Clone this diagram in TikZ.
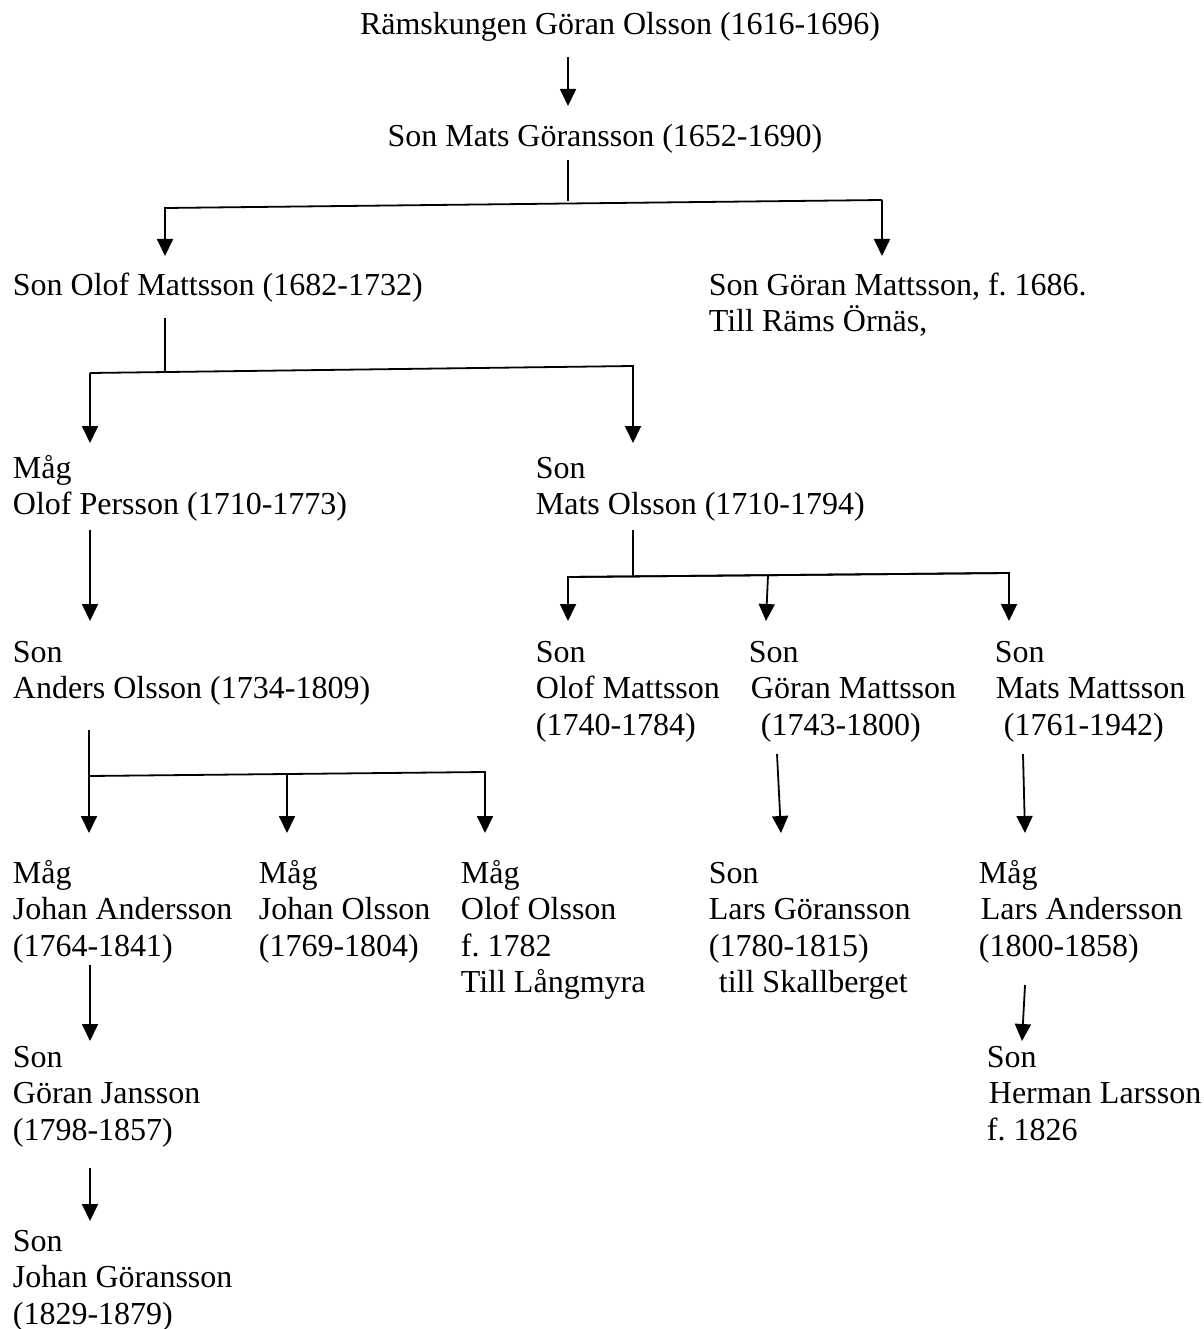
\documentclass[tikz,border=0pt]{standalone}
\usepackage{fontspec}
\setmainfont{Liberation Serif}
\usetikzlibrary{arrows.meta}

\begin{document}
\begin{tikzpicture}[x=1pt,y=-1pt,line width=1.8pt,>={Triangle[length=17pt,width=16pt]},
	every node/.style={inner sep=0pt,align=left,anchor=base west,font=\fontsize{32}{36.6}\selectfont\frenchspacing}]
	\useasboundingbox (0,0) rectangle (1203,1329);
	% personer (base = sista radens baslinje)
	\node[anchor=base] (root) at (620,35) {Rämskungen Göran Olsson (1616-1696)};
	\node[anchor=base] (mats) at (605,147) {Son Mats Göransson (1652-1690)};
	\node (olof) at (12,295) {Son Olof Mattsson (1682-1732)};
	\node (goran) at (708,331.6) {Son Göran Mattsson, f. 1686.\\Till Räms Örnäs,};
	\node (olofp) at (12,514.6) {Måg\\Olof Persson (1710-1773)};
	\node (matso) at (535,514.6) {Son\\Mats Olsson (1710-1794)};
	\node (anders) at (12,698.6) {Son\\Anders Olsson (1734-1809)};
	\node (olofm) at (535,735.2) {Son\\Olof Mattsson\\(1740-1784)};
	\node (goranm) at (748,735.2) {Son\\\hspace*{2pt}Göran Mattsson\\\hspace*{12pt}(1743-1800)};
	\node (matsm) at (994,735.2) {Son\\\hspace*{1pt}Mats Mattsson\\\hspace*{9pt}(1761-1942)};
	\node (johana) at (12,956.2) {Måg\\Johan Andersson\\(1764-1841)};
	\node (johano) at (258,956.2) {Måg\\Johan Olsson\\(1769-1804)};
	\node (olofo) at (460,992.8) {Måg\\Olof Olsson\\f. 1782\\Till Långmyra};
	\node (lars) at (708,992.8) {Son\\Lars Göransson\\(1780-1815)\\\hspace*{10pt}till Skallberget};
	\node (larsa) at (978,956.2) {Måg\\\hspace*{2pt}Lars Andersson\\(1800-1858)};
	\node (goranj) at (12,1140.2) {Son\\Göran Jansson\\(1798-1857)};
	\node (herman) at (986,1140.2) {Son\\\hspace*{2pt}Herman Larsson\\f. 1826};
	\node (johang) at (12,1324.2) {Son\\Johan Göransson\\(1829-1879)};
	% linjer
	\coordinate (r1) at (568,57); \coordinate (r2) at (568,106);
	\coordinate (m1) at (568,160); \coordinate (m2) at (568,201);
	\coordinate (b1l) at (165,208); \coordinate (b1r) at (882,200);
	\coordinate (t1l) at (165,256); \coordinate (t1r) at (882,256);
	\coordinate (o1) at (165,318); \coordinate (o2) at (165,371);
	\coordinate (b2l) at (90,373); \coordinate (b2r) at (633,366);
	\coordinate (t2l) at (90,443); \coordinate (t2r) at (633,443);
	\coordinate (p1) at (90,530); \coordinate (p2) at (90,621);
	\coordinate (s1) at (633,530); \coordinate (s2) at (633,576);
	\coordinate (b3l) at (568,577); \coordinate (b3m) at (768,575); \coordinate (b3r) at (1009,573);
	\coordinate (t3l) at (568,621); \coordinate (t3m) at (766,621); \coordinate (t3r) at (1009,621);
	\coordinate (a1) at (89,730); \coordinate (a2) at (89,833);
	\coordinate (b4l) at (89,776); \coordinate (b4m) at (287,774); \coordinate (b4r) at (485,772);
	\coordinate (t4m) at (287,833); \coordinate (t4r) at (485,833);
	\coordinate (g1) at (777,754); \coordinate (g2) at (781,833);
	\coordinate (k1) at (1023,754); \coordinate (k2) at (1025,833);
	\coordinate (j1) at (90,965); \coordinate (j2) at (90,1041);
	\coordinate (l1) at (1025,985); \coordinate (l2) at (1022,1041);
	\coordinate (n1) at (90,1168); \coordinate (n2) at (90,1221);
	\draw[->] (r1) -- (r2);
	\draw (m1) -- (m2);
	\draw[->] (b1r) -- (t1r);
	\draw[->] (b1r) -- (b1l) -- (t1l);
	\draw (o1) -- (o2);
	\draw[->] (b2l) -- (t2l);
	\draw[->] (b2l) -- (b2r) -- (t2r);
	\draw[->] (p1) -- (p2);
	\draw (s1) -- (s2);
	\draw[->] (b3r) -- (b3l) -- (t3l);
	\draw[->] (b3m) -- (t3m);
	\draw[->] (b3l) -- (b3r) -- (t3r);
	\draw[->] (a1) -- (a2);
	\draw[->] (b4l) -- (b4r) -- (t4r);
	\draw[->] (b4m) -- (t4m);
	\draw[->] (g1) -- (g2);
	\draw[->] (k1) -- (k2);
	\draw[->] (j1) -- (j2);
	\draw[->] (l1) -- (l2);
	\draw[->] (n1) -- (n2);
\end{tikzpicture}
\end{document}
